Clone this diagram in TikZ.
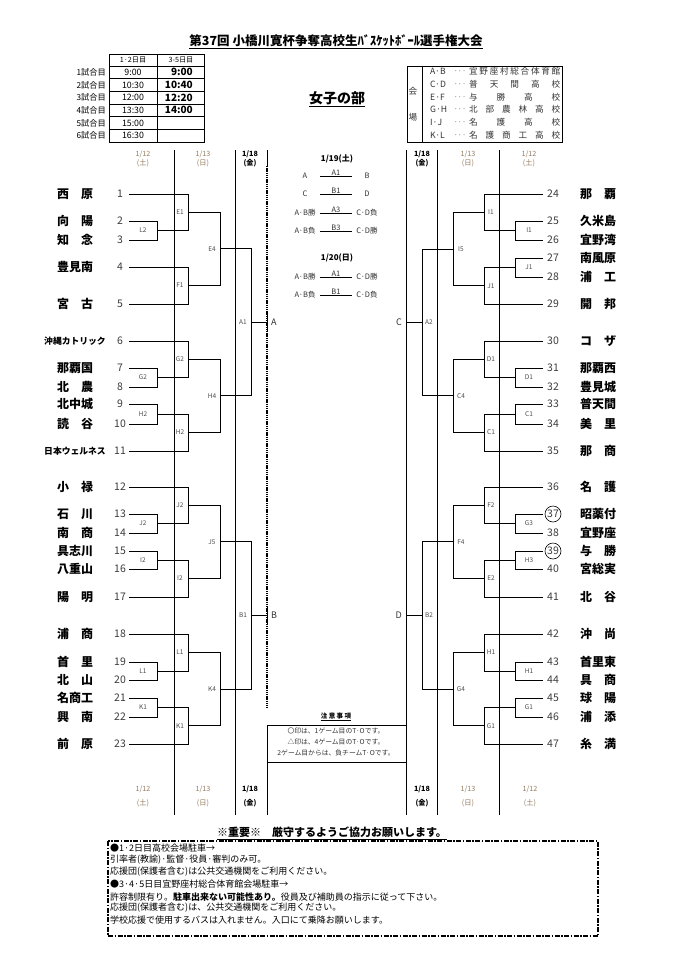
\documentclass[tikz,border=0pt]{standalone}
\usepackage{fontspec}
\setmainfont{Noto Sans CJK JP}
\usetikzlibrary{calc}
\definecolor{datec}{RGB}{150,125,95}
\definecolor{numc}{RGB}{60,60,60}
\newcommand\tn[2]{\makebox[36pt][s]{#1\hfill#2}}
\newcommand\lteam[4]{%
  \node[#4] (ln#1) at (75,#2) {#3};
  \node[num] (lnum#1) at (120,#2) {#1};
  \coordinate (t#1) at (129,#2);}
\newcommand\rteam[4]{%
  \node[#4] (rn#1) at (598,#2) {#3};
  \node[num] (rnum#1) at (553,#2) {#1};
  \coordinate (t#1) at (543,#2);}
\newcommand\bk[6]{%
  \coordinate (#1v) at (#4,0);
  \draw[br] (#2) -- (#2 -| #1v) -- (#3 -| #1v) -- (#3);
  \coordinate (#1) at ($(#2 -| #1v)!0.5!(#3 -| #1v)$);
  \node[lbl] (#1l) at ([xshift=#6pt]#1) {#5};}
\newcommand\crow[5]{%
  \node[ctext] (#5a) at (305,#1) {#2};
  \node[ctext] (#5c) at (367,#1) {#4};
  \coordinate (#5p) at (320,#1);
  \coordinate (#5q) at (352,#1);
  \draw[line width=0.6pt] (#5p) -- (#5q);
  \node[ctext, anchor=south, inner sep=0.6pt] (#5l) at (336,#1) {#3};}
\newcommand\vrow[4]{%
  \node[vt, anchor=west] (vc#4) at (430,#1) {#2};
  \node[vt] (vd#4) at (460,#1) {$\cdots$};
  \node[vt, anchor=west] (vn#4) at (469,#1) {\makebox[91pt]{#3}};}
\begin{document}
\begin{tikzpicture}[x=1pt,y=-1pt,
  team/.style={font=\bfseries\fontsize{12}{12}\selectfont, inner sep=0},
  teams/.style={font=\bfseries\fontsize{8.8}{9}\selectfont, inner sep=0},
  num/.style={font=\fontsize{10.5}{10.5}\selectfont, text=numc, inner sep=0},
  lbl/.style={font=\fontsize{6.5}{6.5}\selectfont, text=black!70, inner sep=0},
  br/.style={line width=0.8pt},
  sep/.style={line width=1pt},
  dt/.style={font=\fontsize{7.2}{8.5}\selectfont, text=datec, align=center, inner sep=0},
  dtb/.style={font=\bfseries\fontsize{7.2}{8.5}\selectfont, align=center, inner sep=0},
  ctext/.style={font=\fontsize{7.5}{7.5}\selectfont, text=black!80, inner sep=0},
  tt/.style={font=\fontsize{8.2}{8.2}\selectfont, inner sep=0},
  vt/.style={font=\fontsize{8.6}{8.6}\selectfont, text=black!80, inner sep=0},
  note/.style={font=\fontsize{9}{9}\selectfont, anchor=west, inner sep=0}]
\fill[white] (0,0) rectangle (676,972);
\useasboundingbox (0,0) rectangle (676,972);

% title
\node[font=\bfseries\fontsize{12.5}{12.5}\selectfont, inner sep=0] (title) at (336,41) {第37回 小橋川寛杯争奪高校生ﾊﾞｽｹｯﾄﾎﾞｰﾙ選手権大会};
\draw[line width=1pt] ([yshift=-1.5pt]title.south west) -- ([yshift=-1.5pt]title.south east);
\node[font=\bfseries\fontsize{14}{14}\selectfont, inner sep=0] (bu) at (337,98) {女子の部};
\draw[line width=1pt] ([yshift=-1.5pt]bu.south west) -- ([yshift=-1.5pt]bu.south east);

% time table
\draw[line width=0.7pt] (109,54) rectangle (204,142);
\draw[line width=0.7pt] (157,54) -- (157,142);
\foreach \yy in {66,78.67,91.33,104,116.67,129.33} \draw[line width=0.5pt] (109,\yy) -- (204,\yy);
\node[tt, font=\fontsize{7.2}{7.2}\selectfont] (h1) at (133,60) {1·2日目};
\node[tt, font=\fontsize{7.2}{7.2}\selectfont] (h2) at (181,60) {3-5日目};
\foreach \i/\yy/\a/\b in {1/72.3/9:00/9:00,2/85/10:30/10:40,3/97.7/12:00/12:20,4/110.3/13:30/14:00,5/123/15:00/,6/135.7/16:30/}{
  \node[tt, anchor=east] (g\i) at (106,\yy) {\i 試合目};
  \node[tt, font=\fontsize{8.8}{8.8}\selectfont] (ga\i) at (133,\yy) {\a};
  \node[tt, anchor=east, font=\bfseries\fontsize{10}{10}\selectfont] (gb\i) at (193,\yy) {\b};
}

% venue table
\draw[line width=0.7pt] (407,66) rectangle (562,142);
\draw[line width=0.7pt] (422,66) -- (422,142);
\node[vt] (kai) at (413,91) {会};
\node[vt] (jo) at (413,117) {場};
\vrow{71}{A·B}{宜\hfill 野\hfill 座\hfill 村\hfill 総\hfill 合\hfill 体\hfill 育\hfill 館}{1}
\vrow{84}{C·D}{普\hfill 天\hfill 間\hfill 高\hfill 校}{2}
\vrow{97}{E·F}{与\hfill 勝\hfill 高\hfill 校}{3}
\vrow{109}{G·H}{北\hfill 部\hfill 農\hfill 林\hfill 高\hfill 校}{4}
\vrow{122}{I·J}{名\hfill 護\hfill 高\hfill 校}{5}
\vrow{135}{K·L}{名\hfill 護\hfill 商\hfill 工\hfill 高\hfill 校}{6}

% column separators
\foreach \xx in {174,235,406,437,499} \draw[sep] (\xx,150) -- (\xx,815);
\draw[sep] (267,150) -- (267,166);
\draw[line width=1.3pt, dash pattern=on 1.3pt off 0.9pt] (267,166) -- (267,708);
\draw[sep] (267,725) -- (267,815);

% dates
\node[dt] (d1) at (143,159) {1/12\\(土)};
\node[dt] (d2) at (203,159) {1/13\\(日)};
\node[dtb] (d3) at (250,159) {1/18\\(金)};
\node[dtb] (d4) at (422,159) {1/18\\(金)};
\node[dt] (d5) at (468,159) {1/13\\(日)};
\node[dt] (d6) at (529,159) {1/12\\(土)};
\node[dt] (e1) at (143,789) {1/12}; \node[dt] (e1b) at (143,803) {(土)};
\node[dt] (e2) at (203,789) {1/13}; \node[dt] (e2b) at (203,803) {(日)};
\node[dtb] (e3) at (250,789) {1/18}; \node[dtb] (e3b) at (250,803) {(金)};
\node[dtb] (e4) at (422,789) {1/18}; \node[dtb] (e4b) at (422,803) {(金)};
\node[dt] (e5) at (468,789) {1/13}; \node[dt] (e5b) at (468,803) {(日)};
\node[dt] (e6) at (530,789) {1/12}; \node[dt] (e6b) at (530,803) {(土)};

% left teams
\lteam{1}{194}{\tn{西}{原}}{team}
\lteam{2}{221}{\tn{向}{陽}}{team}
\lteam{3}{240}{\tn{知}{念}}{team}
\lteam{4}{267}{豊見南}{team}
\lteam{5}{304}{\tn{宮}{古}}{team}
\lteam{6}{341}{沖縄カトリック}{teams}
\lteam{7}{368}{那覇国}{team}
\lteam{8}{387}{\tn{北}{農}}{team}
\lteam{9}{404}{北中城}{team}
\lteam{10}{424}{\tn{読}{谷}}{team}
\lteam{11}{451}{日本ウェルネス}{teams}
\lteam{12}{487}{\tn{小}{禄}}{team}
\lteam{13}{514}{\tn{石}{川}}{team}
\lteam{14}{533}{\tn{南}{商}}{team}
\lteam{15}{551}{具志川}{team}
\lteam{16}{569}{八重山}{team}
\lteam{17}{597}{\tn{陽}{明}}{team}
\lteam{18}{634}{\tn{浦}{商}}{team}
\lteam{19}{662}{\tn{首}{里}}{team}
\lteam{20}{680}{\tn{北}{山}}{team}
\lteam{21}{698}{名商工}{team}
\lteam{22}{717}{\tn{興}{南}}{team}
\lteam{23}{744}{\tn{前}{原}}{team}

% right teams
\rteam{24}{194}{\tn{那}{覇}}{team}
\rteam{25}{221}{久米島}{team}
\rteam{26}{240}{宜野湾}{team}
\rteam{27}{258}{南風原}{team}
\rteam{28}{277}{\tn{浦}{工}}{team}
\rteam{29}{304}{\tn{開}{邦}}{team}
\rteam{30}{341}{\tn{コ}{ザ}}{team}
\rteam{31}{368}{那覇西}{team}
\rteam{32}{387}{豊見城}{team}
\rteam{33}{404}{普天間}{team}
\rteam{34}{424}{\tn{美}{里}}{team}
\rteam{35}{451}{\tn{那}{商}}{team}
\rteam{36}{487}{\tn{名}{護}}{team}
\rteam{37}{514}{昭薬付}{team}
\rteam{38}{533}{宜野座}{team}
\rteam{39}{551}{\tn{与}{勝}}{team}
\rteam{40}{569}{宮総実}{team}
\rteam{41}{597}{\tn{北}{谷}}{team}
\rteam{42}{634}{\tn{沖}{尚}}{team}
\rteam{43}{662}{首里東}{team}
\rteam{44}{680}{\tn{具}{商}}{team}
\rteam{45}{698}{\tn{球}{陽}}{team}
\rteam{46}{717}{\tn{浦}{添}}{team}
\rteam{47}{744}{\tn{糸}{満}}{team}
\node[draw, circle, line width=0.6pt, minimum size=16pt, inner sep=0] (c37) at (rnum37) {};
\node[draw, circle, line width=0.6pt, minimum size=16pt, inner sep=0] (c39) at (rnum39) {};

% left brackets
\bk{L2}{t2}{t3}{157}{L2}{-14}
\bk{E1}{t1}{L2}{188}{E1}{-8}
\bk{F1}{t4}{t5}{188}{F1}{-8}
\bk{E4}{E1}{F1}{220}{E4}{-8}
\bk{G2a}{t7}{t8}{157}{G2}{-14}
\bk{G2b}{t6}{G2a}{188}{G2}{-8}
\bk{H2a}{t9}{t10}{157}{H2}{-14}
\bk{H2b}{H2a}{t11}{188}{H2}{-8}
\bk{H4}{G2b}{H2b}{220}{H4}{-8}
\bk{A1}{E4}{H4}{251}{A1}{-8}
\bk{J2a}{t13}{t14}{157}{J2}{-14}
\bk{J2b}{t12}{J2a}{188}{J2}{-8}
\bk{I2a}{t15}{t16}{157}{I2}{-14}
\bk{I2b}{I2a}{t17}{188}{I2}{-8}
\bk{J5}{J2b}{I2b}{220}{J5}{-8}
\bk{L1a}{t19}{t20}{157}{L1}{-14}
\bk{L1b}{t18}{L1a}{188}{L1}{-8}
\bk{K1a}{t21}{t22}{157}{K1}{-14}
\bk{K1b}{K1a}{t23}{188}{K1}{-8}
\bk{K4}{L1b}{K1b}{220}{K4}{-8}
\bk{B1}{J5}{K4}{251}{B1}{-8}
\coordinate (Ax) at (267,0);
\draw[br] (A1) -- (A1 -| Ax);
\draw[sep] ($(A1 -| Ax)+(0,-9)$) -- ($(A1 -| Ax)+(0,9)$);
\node[ctext, font=\fontsize{9}{9}\selectfont, anchor=west] (lA) at ($(A1 -| Ax)+(4,0)$) {A};
\draw[br] (B1) -- (B1 -| Ax);
\draw[sep] ($(B1 -| Ax)+(0,-9)$) -- ($(B1 -| Ax)+(0,9)$);
\node[ctext, font=\fontsize{9}{9}\selectfont, anchor=west] (lB) at ($(B1 -| Ax)+(4,0)$) {B};

% right brackets
\bk{RI1a}{t25}{t26}{515}{I1}{14}
\bk{RI1b}{t24}{RI1a}{484}{I1}{7}
\bk{RJ1a}{t27}{t28}{515}{J1}{14}
\bk{RJ1b}{RJ1a}{t29}{484}{J1}{7}
\bk{RI5}{RI1b}{RJ1b}{453}{I5}{8}
\bk{RD1a}{t31}{t32}{515}{D1}{14}
\bk{RD1b}{t30}{RD1a}{484}{D1}{7}
\bk{RC1a}{t33}{t34}{515}{C1}{14}
\bk{RC1b}{RC1a}{t35}{484}{C1}{7}
\bk{RC4}{RD1b}{RC1b}{453}{C4}{8}
\bk{RA2}{RI5}{RC4}{422}{A2}{7}
\bk{RG3}{t37}{t38}{515}{G3}{14}
\bk{RF2}{t36}{RG3}{484}{F2}{7}
\bk{RH3}{t39}{t40}{515}{H3}{14}
\bk{RE2}{RH3}{t41}{484}{E2}{7}
\bk{RF4}{RF2}{RE2}{453}{F4}{8}
\bk{RH1a}{t43}{t44}{515}{H1}{14}
\bk{RH1b}{t42}{RH1a}{484}{H1}{7}
\bk{RG1a}{t45}{t46}{515}{G1}{14}
\bk{RG1b}{RG1a}{t47}{484}{G1}{7}
\bk{RG4}{RH1b}{RG1b}{453}{G4}{8}
\bk{RB2}{RF4}{RG4}{422}{B2}{7}
\coordinate (Cx) at (406,0);
\draw[br] (RA2) -- (RA2 -| Cx);
\node[ctext, font=\fontsize{9}{9}\selectfont, anchor=east] (lC) at ($(RA2 -| Cx)+(-4,0)$) {C};
\draw[br] (RB2) -- (RB2 -| Cx);
\node[ctext, font=\fontsize{9}{9}\selectfont, anchor=east] (lD) at ($(RB2 -| Cx)+(-4,0)$) {D};

% centre schedule
\node[font=\bfseries\fontsize{8}{8}\selectfont, inner sep=0] (day1) at (337,159) {1/19(土)};
\crow{176}{A}{A1}{B}{r1}
\crow{194}{C}{B1}{D}{r2}
\crow{213}{A·B勝}{A3}{C·D負}{r3}
\crow{231}{A·B負}{B3}{C·D勝}{r4}
\node[font=\bfseries\fontsize{8}{8}\selectfont, inner sep=0] (day2) at (337,258) {1/20(日)};
\crow{277}{A·B勝}{A1}{C·D勝}{r5}
\crow{295}{A·B負}{B1}{C·D負}{r6}

% centre note box
\draw[line width=0.8pt] (267,725) -- (406,725);
\draw[line width=0.8pt] (267,762) -- (406,762);
\node[font=\bfseries\fontsize{6.5}{6.5}\selectfont, inner sep=0] (cn) at (336,716) {注\ 意\ 事\ 項};
\draw[line width=0.4pt] ([yshift=-1pt]cn.south west) -- ([yshift=-1pt]cn.south east);
\node[ctext, font=\fontsize{6.8}{6.8}\selectfont] (cn1) at (336,731) {〇印は、1ゲーム目のT·Oです。};
\node[ctext, font=\fontsize{6.8}{6.8}\selectfont] (cn2) at (336,742) {△印は、4ゲーム目のT·Oです。};
\node[ctext, font=\fontsize{6.8}{6.8}\selectfont] (cn3) at (336,753) {2ゲーム目からは、負チームT·Oです。};

% bottom notes
\node[font=\bfseries\fontsize{11}{11}\selectfont, inner sep=0] (imp) at (332,832) {※重要※\quad 厳守するようご協力お願いします。};
\draw[line width=0.9pt] ([yshift=-1.5pt]imp.south west) -- ([yshift=-1.5pt]imp.south east);
\draw[line width=1.2pt, dash pattern=on 5pt off 1.5pt on 1.5pt off 1.5pt] (108,841) rectangle (598,936);
\node[note] (n1) at (110,848) {●1·2日目高校会場駐車→};
\node[note] (n2) at (110,860) {引率者(教諭)·監督·役員·審判のみ可。};
\node[note] (n3) at (110,872) {応援団(保護者含む)は公共交通機関をご利用ください。};
\node[note] (n4) at (110,884) {●3·4·5日目宜野座村総合体育館会場駐車→};
\node[note] (n5) at (110,897) {許容制限有り。\textbf{駐車出来ない可能性あり。}役員及び補助員の指示に従って下さい。};
\node[note] (n6) at (110,908) {応援団(保護者含む)は、公共交通機関をご利用ください。};
\node[note] (n7) at (110,920) {学校応援で使用するバスは入れません。入口にて乗降お願いします。};
\end{tikzpicture}
\end{document}
